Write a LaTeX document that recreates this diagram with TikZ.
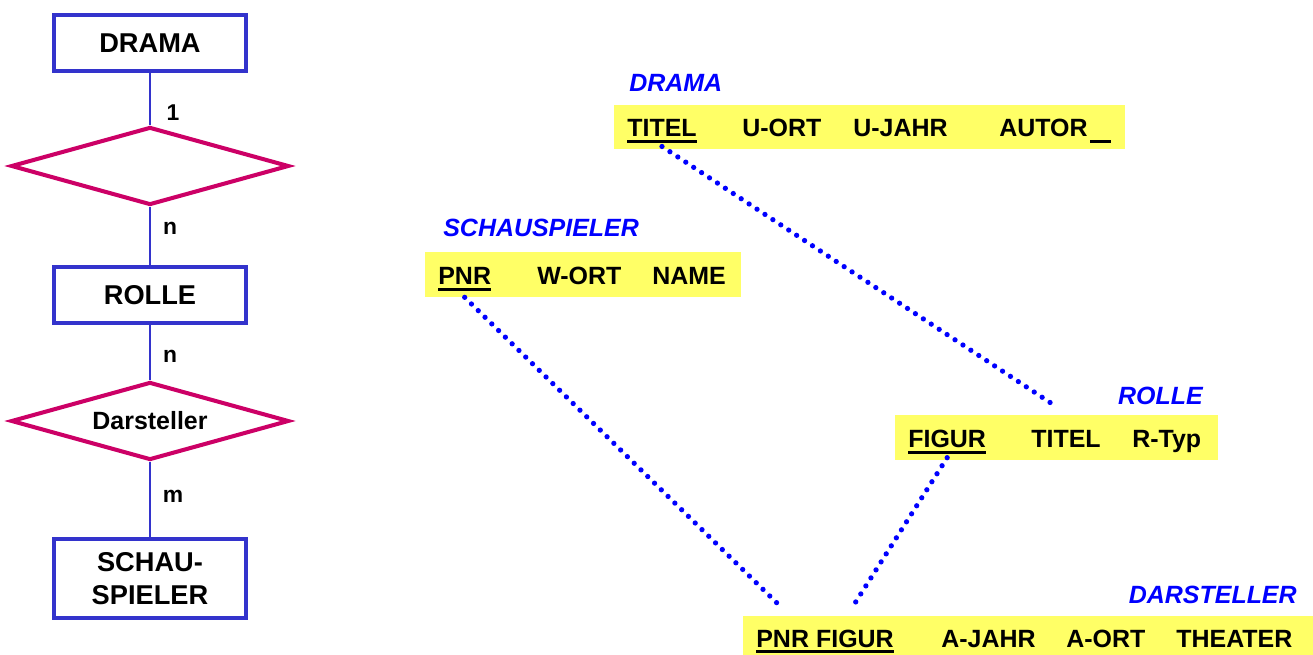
\documentclass[tikz,border=0pt]{standalone}
\usepackage{fontspec}
\setmainfont{Liberation Sans}
\usepackage{xcolor}
\usetikzlibrary{shapes.geometric}
\definecolor{boxblue}{RGB}{51,51,204}
\definecolor{relred}{RGB}{204,0,102}
\definecolor{tabyellow}{RGB}{255,255,102}
\definecolor{dotblue}{RGB}{0,0,255}
\newcommand{\keyfld}[1]{\setbox0\hbox{#1}\rlap{\rule[-3.2pt]{\wd0}{1.7pt}}\box0}

\begin{document}
\begin{tikzpicture}[x=0.02cm,y=-0.02cm]
		\tikzset{entity/.style = {draw=boxblue, line width=2.6pt, minimum width=3.84cm, minimum height=1.12cm, align=center, font=\fontsize{15.5}{18.7}\selectfont\bfseries}}
		\tikzset{relation/.style = {diamond, aspect=3.5, draw=relred, line width=2.3pt, minimum width=5.56cm, minimum height=1.56cm, inner sep=0pt, font=\fontsize{14.2}{17}\selectfont\bfseries}}
		\tikzset{edge/.style = {draw=boxblue, line width=1.1pt}}
		\tikzset{card/.style = {inner sep=0pt, font=\fontsize{13}{15}\selectfont\bfseries}}
		\tikzset{table/.style = {fill=tabyellow, inner sep=0pt, minimum height=0.9cm}}
		\tikzset{field/.style = {anchor=base west, inner sep=0pt, font=\fontsize{14.2}{17}\selectfont\bfseries}}
		\tikzset{tname/.style = {field, text=dotblue, font=\fontsize{14.2}{17}\selectfont\bfseries\itshape}}
		\tikzset{dotline/.style = {draw=dotblue, line width=3pt, line cap=round, dash pattern=on 0pt off 5.4pt}}

		\useasboundingbox (0,0) rectangle (1313,655);

		\node[entity] (E_1) at (150,43) {DRAMA};
		\node[relation] (R_1) at (150,166) {};
		\node[entity] (E_2) at (150,295) {ROLLE};
		\node[relation] (R_2) at (150,421) {Darsteller};
		\node[entity, minimum height=1.58cm] (E_3) at (150,578.5) {SCHAU-\\SPIELER};

		\draw[edge] (E_1) to (R_1) {};
		\draw[edge] (R_1) to (E_2) {};
		\draw[edge] (E_2) to (R_2) {};
		\draw[edge] (R_2) to (E_3) {};

		\node[card] (C_1) at (173,113) {1};
		\node[card] (C_2) at (170,228) {n};
		\node[card] (C_3) at (170,356) {n};
		\node[card] (C_4) at (173,496) {m};

		\node[table, minimum width=10.22cm, minimum height=0.88cm] (T_1) at (869.5,127) {};
		\node[tname] (N_1) at (629,92) {DRAMA};
		\node[field] (T1_titel) at (627,137) {\keyfld{TITEL}};
		\node[field] (T1_uort) at (742,137) {U-ORT};
		\node[field] (T1_ujahr) at (853,137) {U-JAHR};
		\node[field] (T1_autor) at (999,137) {AUTOR\hspace{1.6pt}\keyfld{\hspace*{11.9pt}}};

		\node[table, minimum width=6.32cm] (T_2) at (583,274.5) {};
		\node[tname] (N_2) at (443,237) {SCHAUSPIELER};
		\node[field] (T2_pnr) at (438,285) {\keyfld{PNR}};
		\node[field] (T2_wort) at (537,285) {W-ORT};
		\node[field] (T2_name) at (652,285) {NAME};

		\node[table, minimum width=6.46cm] (T_3) at (1056.5,437.5) {};
		\node[tname, anchor=base east] (N_3) at (1203,405) {ROLLE};
		\node[field] (T3_figur) at (908,448) {\keyfld{FIGUR}};
		\node[field] (T3_titel) at (1031,448) {TITEL};
		\node[field] (T3_rtyp) at (1132,448) {R-Typ};

		\node[table, minimum width=11.4cm, minimum height=0.78cm] (T_4) at (1028,635.5) {};
		\node[tname, anchor=base east] (N_4) at (1297,603) {DARSTELLER};
		\node[field] (T4_pnr) at (756,647) {\keyfld{PNR}};
		\node[field] (T4_figur) at ([xshift=-0.3pt]T4_pnr.base east) {\keyfld{\ FIGUR}};
		\node[field] (T4_ajahr) at (941,647) {A-JAHR};
		\node[field] (T4_aort) at (1066,647) {A-ORT};
		\node[field] (T4_theater) at (1176,647) {THEATER};

		\draw[dotline] ([yshift=-2pt]T1_titel.south) to ([yshift=4.5pt]T_3.north) {};
		\draw[dotline] (T2_pnr.south |- T_2.south) to ([yshift=4pt]T4_pnr.north |- T_4.north) {};
		\draw[dotline] ([yshift=1.5pt]T3_figur.south |- T_3.south) to ([yshift=4pt]T4_figur.north |- T_4.north) {};

	\end{tikzpicture}
\end{document}
